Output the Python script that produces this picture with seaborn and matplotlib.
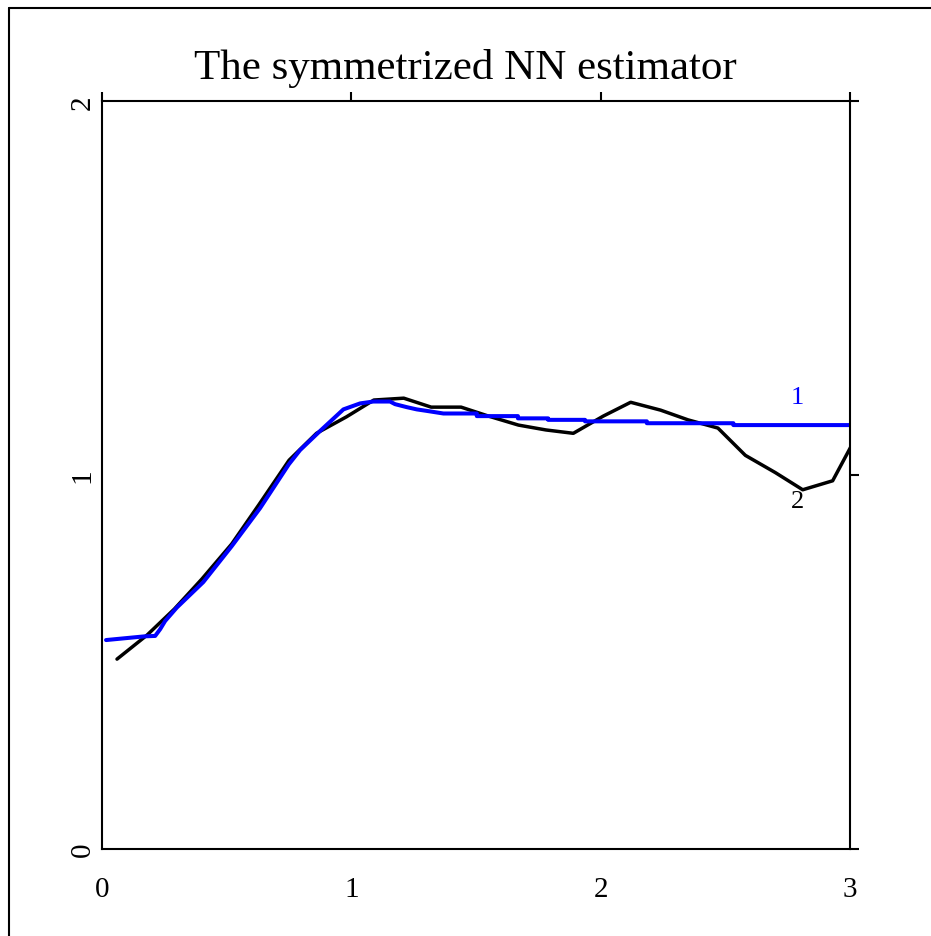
import matplotlib
matplotlib.use("Agg")
import matplotlib.pyplot as plt
import pandas as pd
import seaborn as sns
from matplotlib.lines import Line2D

x_two = [0.06, 0.18, 0.29, 0.40, 0.52, 0.63, 0.75, 0.86, 0.98, 1.09, 1.21, 1.32, 1.44, 1.55,
         1.67, 1.78, 1.89, 2.01, 2.12, 2.24, 2.35, 2.47, 2.58, 2.70, 2.81, 2.93, 3.04]
y_two = [0.508, 0.572, 0.642, 0.722, 0.816, 0.922, 1.040, 1.112, 1.156, 1.201, 1.206, 1.182,
         1.182, 1.158, 1.134, 1.121, 1.112, 1.158, 1.195, 1.174, 1.148, 1.126, 1.053, 1.007,
         0.961, 0.985, 1.122]

# curve 1 (blue), the symmetrized NN estimate (step corners included)
x_one = [0.016, 0.172, 0.213, 0.233, 0.253, 0.30, 0.406, 0.520, 0.634, 0.749, 0.794, 0.874,
         0.968, 1.035, 1.088, 1.155, 1.175, 1.222, 1.262, 1.302, 1.369, 1.503, 1.503, 1.668,
         1.668, 1.789, 1.789, 1.937, 1.937, 2.185, 2.185, 2.532, 2.532, 3.0]
y_one = [0.559, 0.569, 0.570, 0.588, 0.610, 0.646, 0.714, 0.810, 0.912, 1.029, 1.067, 1.118,
         1.176, 1.192, 1.197, 1.197, 1.190, 1.182, 1.176, 1.172, 1.165, 1.165, 1.158, 1.158,
         1.152, 1.152, 1.148, 1.148, 1.144, 1.144, 1.139, 1.139, 1.134, 1.134]

x_ticks = [0, 1, 2, 3]
y_ticks = [0, 1, 2]

df_two = pd.DataFrame({"x": x_two, "y": y_two})
df_one = pd.DataFrame({"x": x_one, "y": y_one})

sns.set_style("white")
plt.rcParams["font.family"] = ["Liberation Serif", "DejaVu Serif"]
plt.rcParams["text.color"] = "black"
plt.rcParams["xtick.color"] = "black"
plt.rcParams["ytick.color"] = "black"
plt.rcParams["xtick.labelcolor"] = "black"
plt.rcParams["ytick.labelcolor"] = "black"

fig = plt.figure(figsize=(9.31, 9.37), dpi=100)
ax = fig.add_axes([0.1096, 0.0928, 0.8035, 0.798])

sns.lineplot(data=df_two, x="x", y="y", ax=ax, color="black", linewidth=2.5,
             estimator=None, sort=False)
sns.lineplot(data=df_one, x="x", y="y", ax=ax, color="#0000ff", linewidth=2.9,
             estimator=None, sort=False)

ax.text(2.79, 1.209, "1", color="#0000ff", fontsize=19, ha="center", va="center")
ax.text(2.79, 0.93, "2", color="black", fontsize=19, ha="center", va="center")

ax.set_xlim(0, 3)
ax.set_ylim(0, 2)
ax.set_xticks(x_ticks)
ax.set_yticks(y_ticks)
ax.set_xlabel("")
ax.set_ylabel("")
for s in ax.spines.values():
    s.set_linewidth(1.5)
    s.set_color("black")
ax.tick_params(which="both", direction="out", length=6.5, width=1.5, color="black",
               top=True, right=True, labeltop=False, labelright=False, labelsize=21)
ax.tick_params(axis="x", pad=13)
ax.tick_params(axis="y", pad=-2)
for lab in ax.get_yticklabels():
    lab.set_rotation(90)
    lab.set_va("center")

fig.text(0.5, 0.927, "The symmetrized NN estimator", fontsize=31, ha="center", va="center")

# frame edges at top and left of the image
fig.add_artist(Line2D([0.0097, 1.0], [0.99, 0.99], color="black", linewidth=1.5))
fig.add_artist(Line2D([0.0097, 0.0097], [0.0, 0.99], color="black", linewidth=1.5))

fig.savefig("out.png", dpi=100)
